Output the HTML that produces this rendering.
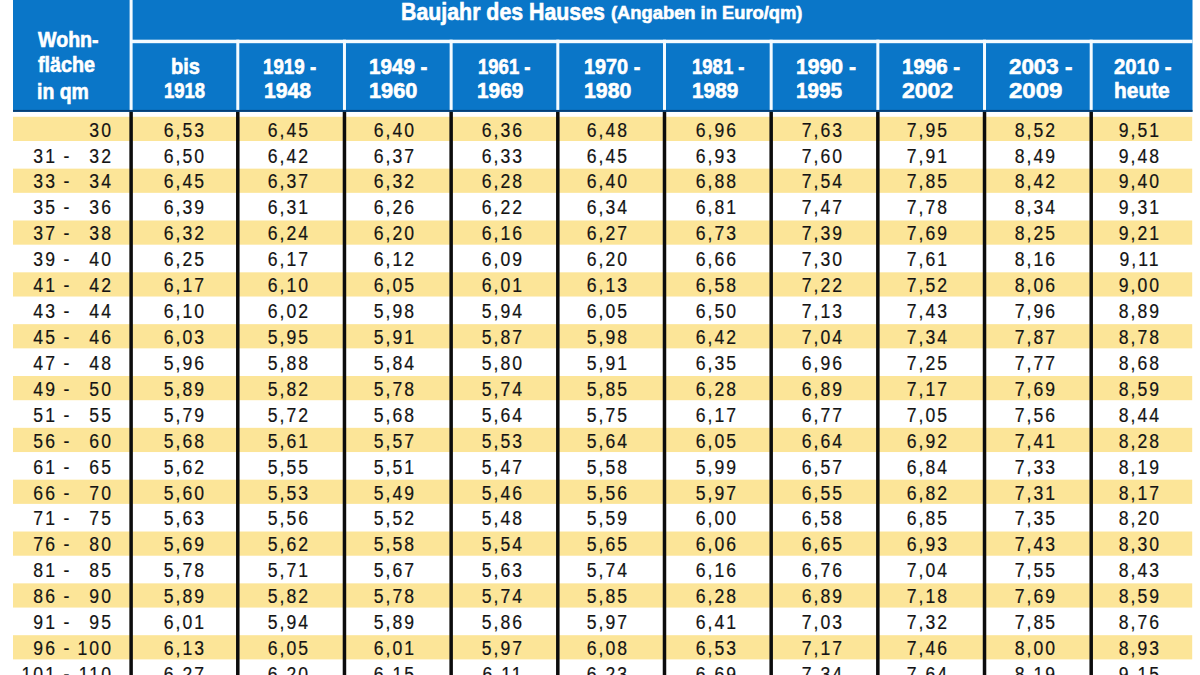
<!DOCTYPE html>
<html><head><meta charset="utf-8"><style>
html,body{margin:0;padding:0;}
body{width:1200px;height:675px;overflow:hidden;position:relative;background:#fff;font-family:"Liberation Sans",sans-serif;}
div{position:absolute;}
.hd{background:#0a76c8;}
.wl{background:#f4fbff;}
.bl{background:#0c0c0c;}
.yb{background:#fce598;}
.h{color:#fff;-webkit-text-stroke:0.6px #fff;font-weight:bold;white-space:pre;line-height:1;transform-origin:0 0;}
.t{color:#141414;-webkit-text-stroke:0.2px #141414;font-size:20px;letter-spacing:2.3px;line-height:1;white-space:nowrap;transform:scaleX(0.88);}
.c{width:200px;text-align:center;transform-origin:50% 0;}
.r{width:100px;text-align:right;transform-origin:100% 0;}
</style></head><body>

<svg width="1200" height="675" viewBox="0 0 1200 675" style="position:absolute;left:0;top:0"><rect x="13" y="0" width="1179.50" height="111.80" fill="#0a76c8"/><rect x="13" y="109.90" width="1179.50" height="1.90" fill="#063d73"/><rect x="131.11" y="39.70" width="1061.39" height="3.50" fill="#f4fbff"/><rect x="129.61" y="0.00" width="3.00" height="109.90" fill="#f4fbff"/><rect x="236.29" y="39.70" width="3.00" height="70.20" fill="#f4fbff"/><rect x="342.96" y="39.70" width="3.00" height="70.20" fill="#f4fbff"/><rect x="449.64" y="39.70" width="3.00" height="70.20" fill="#f4fbff"/><rect x="556.31" y="39.70" width="3.00" height="70.20" fill="#f4fbff"/><rect x="662.99" y="39.70" width="3.00" height="70.20" fill="#f4fbff"/><rect x="769.67" y="39.70" width="3.00" height="70.20" fill="#f4fbff"/><rect x="876.34" y="39.70" width="3.00" height="70.20" fill="#f4fbff"/><rect x="983.02" y="39.70" width="3.00" height="70.20" fill="#f4fbff"/><rect x="1089.69" y="39.70" width="3.00" height="70.20" fill="#f4fbff"/><rect x="13" y="116.80" width="1179.20" height="24.20" fill="#fce598"/><rect x="13" y="168.64" width="1179.20" height="24.20" fill="#fce598"/><rect x="13" y="220.48" width="1179.20" height="24.20" fill="#fce598"/><rect x="13" y="272.32" width="1179.20" height="24.20" fill="#fce598"/><rect x="13" y="324.16" width="1179.20" height="24.20" fill="#fce598"/><rect x="13" y="376.00" width="1179.20" height="24.20" fill="#fce598"/><rect x="13" y="427.84" width="1179.20" height="24.20" fill="#fce598"/><rect x="13" y="479.68" width="1179.20" height="24.20" fill="#fce598"/><rect x="13" y="531.52" width="1179.20" height="24.20" fill="#fce598"/><rect x="13" y="583.36" width="1179.20" height="24.20" fill="#fce598"/><rect x="13" y="635.20" width="1179.20" height="24.20" fill="#fce598"/><rect x="129.36" y="111.80" width="3.50" height="563.20" fill="#0c0c0c"/><rect x="236.04" y="111.80" width="3.50" height="563.20" fill="#0c0c0c"/><rect x="342.71" y="111.80" width="3.50" height="563.20" fill="#0c0c0c"/><rect x="449.39" y="111.80" width="3.50" height="563.20" fill="#0c0c0c"/><rect x="556.06" y="111.80" width="3.50" height="563.20" fill="#0c0c0c"/><rect x="662.74" y="111.80" width="3.50" height="563.20" fill="#0c0c0c"/><rect x="769.42" y="111.80" width="3.50" height="563.20" fill="#0c0c0c"/><rect x="876.09" y="111.80" width="3.50" height="563.20" fill="#0c0c0c"/><rect x="982.77" y="111.80" width="3.50" height="563.20" fill="#0c0c0c"/><rect x="1089.44" y="111.80" width="3.50" height="563.20" fill="#0c0c0c"/></svg>
<div class="t c" style="left:85.35px;top:119.65px">6,53</div>
<div class="t c" style="left:189.12px;top:119.65px">6,45</div>
<div class="t c" style="left:295.15px;top:119.65px">6,40</div>
<div class="t c" style="left:402.58px;top:119.65px">6,36</div>
<div class="t c" style="left:508.45px;top:119.65px">6,48</div>
<div class="t c" style="left:617.28px;top:119.65px">6,96</div>
<div class="t c" style="left:722.65px;top:119.65px">7,63</div>
<div class="t c" style="left:828.43px;top:119.65px">7,95</div>
<div class="t c" style="left:935.71px;top:119.65px">8,52</div>
<div class="t c" style="left:1040.28px;top:119.65px">9,51</div>
<div class="t r" style="left:13.30px;top:119.65px">30</div>
<div class="t c" style="left:85.35px;top:145.57px">6,50</div>
<div class="t c" style="left:189.12px;top:145.57px">6,42</div>
<div class="t c" style="left:295.15px;top:145.57px">6,37</div>
<div class="t c" style="left:402.58px;top:145.57px">6,33</div>
<div class="t c" style="left:508.45px;top:145.57px">6,45</div>
<div class="t c" style="left:617.28px;top:145.57px">6,93</div>
<div class="t c" style="left:722.65px;top:145.57px">7,60</div>
<div class="t c" style="left:828.43px;top:145.57px">7,91</div>
<div class="t c" style="left:935.71px;top:145.57px">8,49</div>
<div class="t c" style="left:1040.28px;top:145.57px">9,48</div>
<div class="t r" style="left:-42.70px;top:145.57px">31</div>
<div class="t" style="left:63.00px;top:145.57px">-</div>
<div class="t r" style="left:13.30px;top:145.57px">32</div>
<div class="t c" style="left:85.35px;top:171.49px">6,45</div>
<div class="t c" style="left:189.12px;top:171.49px">6,37</div>
<div class="t c" style="left:295.15px;top:171.49px">6,32</div>
<div class="t c" style="left:402.58px;top:171.49px">6,28</div>
<div class="t c" style="left:508.45px;top:171.49px">6,40</div>
<div class="t c" style="left:617.28px;top:171.49px">6,88</div>
<div class="t c" style="left:722.65px;top:171.49px">7,54</div>
<div class="t c" style="left:828.43px;top:171.49px">7,85</div>
<div class="t c" style="left:935.71px;top:171.49px">8,42</div>
<div class="t c" style="left:1040.28px;top:171.49px">9,40</div>
<div class="t r" style="left:-42.70px;top:171.49px">33</div>
<div class="t" style="left:63.00px;top:171.49px">-</div>
<div class="t r" style="left:13.30px;top:171.49px">34</div>
<div class="t c" style="left:85.35px;top:197.41px">6,39</div>
<div class="t c" style="left:189.12px;top:197.41px">6,31</div>
<div class="t c" style="left:295.15px;top:197.41px">6,26</div>
<div class="t c" style="left:402.58px;top:197.41px">6,22</div>
<div class="t c" style="left:508.45px;top:197.41px">6,34</div>
<div class="t c" style="left:617.28px;top:197.41px">6,81</div>
<div class="t c" style="left:722.65px;top:197.41px">7,47</div>
<div class="t c" style="left:828.43px;top:197.41px">7,78</div>
<div class="t c" style="left:935.71px;top:197.41px">8,34</div>
<div class="t c" style="left:1040.28px;top:197.41px">9,31</div>
<div class="t r" style="left:-42.70px;top:197.41px">35</div>
<div class="t" style="left:63.00px;top:197.41px">-</div>
<div class="t r" style="left:13.30px;top:197.41px">36</div>
<div class="t c" style="left:85.35px;top:223.33px">6,32</div>
<div class="t c" style="left:189.12px;top:223.33px">6,24</div>
<div class="t c" style="left:295.15px;top:223.33px">6,20</div>
<div class="t c" style="left:402.58px;top:223.33px">6,16</div>
<div class="t c" style="left:508.45px;top:223.33px">6,27</div>
<div class="t c" style="left:617.28px;top:223.33px">6,73</div>
<div class="t c" style="left:722.65px;top:223.33px">7,39</div>
<div class="t c" style="left:828.43px;top:223.33px">7,69</div>
<div class="t c" style="left:935.71px;top:223.33px">8,25</div>
<div class="t c" style="left:1040.28px;top:223.33px">9,21</div>
<div class="t r" style="left:-42.70px;top:223.33px">37</div>
<div class="t" style="left:63.00px;top:223.33px">-</div>
<div class="t r" style="left:13.30px;top:223.33px">38</div>
<div class="t c" style="left:85.35px;top:249.25px">6,25</div>
<div class="t c" style="left:189.12px;top:249.25px">6,17</div>
<div class="t c" style="left:295.15px;top:249.25px">6,12</div>
<div class="t c" style="left:402.58px;top:249.25px">6,09</div>
<div class="t c" style="left:508.45px;top:249.25px">6,20</div>
<div class="t c" style="left:617.28px;top:249.25px">6,66</div>
<div class="t c" style="left:722.65px;top:249.25px">7,30</div>
<div class="t c" style="left:828.43px;top:249.25px">7,61</div>
<div class="t c" style="left:935.71px;top:249.25px">8,16</div>
<div class="t c" style="left:1040.28px;top:249.25px">9,11</div>
<div class="t r" style="left:-42.70px;top:249.25px">39</div>
<div class="t" style="left:63.00px;top:249.25px">-</div>
<div class="t r" style="left:13.30px;top:249.25px">40</div>
<div class="t c" style="left:85.35px;top:275.17px">6,17</div>
<div class="t c" style="left:189.12px;top:275.17px">6,10</div>
<div class="t c" style="left:295.15px;top:275.17px">6,05</div>
<div class="t c" style="left:402.58px;top:275.17px">6,01</div>
<div class="t c" style="left:508.45px;top:275.17px">6,13</div>
<div class="t c" style="left:617.28px;top:275.17px">6,58</div>
<div class="t c" style="left:722.65px;top:275.17px">7,22</div>
<div class="t c" style="left:828.43px;top:275.17px">7,52</div>
<div class="t c" style="left:935.71px;top:275.17px">8,06</div>
<div class="t c" style="left:1040.28px;top:275.17px">9,00</div>
<div class="t r" style="left:-42.70px;top:275.17px">41</div>
<div class="t" style="left:63.00px;top:275.17px">-</div>
<div class="t r" style="left:13.30px;top:275.17px">42</div>
<div class="t c" style="left:85.35px;top:301.09px">6,10</div>
<div class="t c" style="left:189.12px;top:301.09px">6,02</div>
<div class="t c" style="left:295.15px;top:301.09px">5,98</div>
<div class="t c" style="left:402.58px;top:301.09px">5,94</div>
<div class="t c" style="left:508.45px;top:301.09px">6,05</div>
<div class="t c" style="left:617.28px;top:301.09px">6,50</div>
<div class="t c" style="left:722.65px;top:301.09px">7,13</div>
<div class="t c" style="left:828.43px;top:301.09px">7,43</div>
<div class="t c" style="left:935.71px;top:301.09px">7,96</div>
<div class="t c" style="left:1040.28px;top:301.09px">8,89</div>
<div class="t r" style="left:-42.70px;top:301.09px">43</div>
<div class="t" style="left:63.00px;top:301.09px">-</div>
<div class="t r" style="left:13.30px;top:301.09px">44</div>
<div class="t c" style="left:85.35px;top:327.01px">6,03</div>
<div class="t c" style="left:189.12px;top:327.01px">5,95</div>
<div class="t c" style="left:295.15px;top:327.01px">5,91</div>
<div class="t c" style="left:402.58px;top:327.01px">5,87</div>
<div class="t c" style="left:508.45px;top:327.01px">5,98</div>
<div class="t c" style="left:617.28px;top:327.01px">6,42</div>
<div class="t c" style="left:722.65px;top:327.01px">7,04</div>
<div class="t c" style="left:828.43px;top:327.01px">7,34</div>
<div class="t c" style="left:935.71px;top:327.01px">7,87</div>
<div class="t c" style="left:1040.28px;top:327.01px">8,78</div>
<div class="t r" style="left:-42.70px;top:327.01px">45</div>
<div class="t" style="left:63.00px;top:327.01px">-</div>
<div class="t r" style="left:13.30px;top:327.01px">46</div>
<div class="t c" style="left:85.35px;top:352.93px">5,96</div>
<div class="t c" style="left:189.12px;top:352.93px">5,88</div>
<div class="t c" style="left:295.15px;top:352.93px">5,84</div>
<div class="t c" style="left:402.58px;top:352.93px">5,80</div>
<div class="t c" style="left:508.45px;top:352.93px">5,91</div>
<div class="t c" style="left:617.28px;top:352.93px">6,35</div>
<div class="t c" style="left:722.65px;top:352.93px">6,96</div>
<div class="t c" style="left:828.43px;top:352.93px">7,25</div>
<div class="t c" style="left:935.71px;top:352.93px">7,77</div>
<div class="t c" style="left:1040.28px;top:352.93px">8,68</div>
<div class="t r" style="left:-42.70px;top:352.93px">47</div>
<div class="t" style="left:63.00px;top:352.93px">-</div>
<div class="t r" style="left:13.30px;top:352.93px">48</div>
<div class="t c" style="left:85.35px;top:378.85px">5,89</div>
<div class="t c" style="left:189.12px;top:378.85px">5,82</div>
<div class="t c" style="left:295.15px;top:378.85px">5,78</div>
<div class="t c" style="left:402.58px;top:378.85px">5,74</div>
<div class="t c" style="left:508.45px;top:378.85px">5,85</div>
<div class="t c" style="left:617.28px;top:378.85px">6,28</div>
<div class="t c" style="left:722.65px;top:378.85px">6,89</div>
<div class="t c" style="left:828.43px;top:378.85px">7,17</div>
<div class="t c" style="left:935.71px;top:378.85px">7,69</div>
<div class="t c" style="left:1040.28px;top:378.85px">8,59</div>
<div class="t r" style="left:-42.70px;top:378.85px">49</div>
<div class="t" style="left:63.00px;top:378.85px">-</div>
<div class="t r" style="left:13.30px;top:378.85px">50</div>
<div class="t c" style="left:85.35px;top:404.77px">5,79</div>
<div class="t c" style="left:189.12px;top:404.77px">5,72</div>
<div class="t c" style="left:295.15px;top:404.77px">5,68</div>
<div class="t c" style="left:402.58px;top:404.77px">5,64</div>
<div class="t c" style="left:508.45px;top:404.77px">5,75</div>
<div class="t c" style="left:617.28px;top:404.77px">6,17</div>
<div class="t c" style="left:722.65px;top:404.77px">6,77</div>
<div class="t c" style="left:828.43px;top:404.77px">7,05</div>
<div class="t c" style="left:935.71px;top:404.77px">7,56</div>
<div class="t c" style="left:1040.28px;top:404.77px">8,44</div>
<div class="t r" style="left:-42.70px;top:404.77px">51</div>
<div class="t" style="left:63.00px;top:404.77px">-</div>
<div class="t r" style="left:13.30px;top:404.77px">55</div>
<div class="t c" style="left:85.35px;top:430.69px">5,68</div>
<div class="t c" style="left:189.12px;top:430.69px">5,61</div>
<div class="t c" style="left:295.15px;top:430.69px">5,57</div>
<div class="t c" style="left:402.58px;top:430.69px">5,53</div>
<div class="t c" style="left:508.45px;top:430.69px">5,64</div>
<div class="t c" style="left:617.28px;top:430.69px">6,05</div>
<div class="t c" style="left:722.65px;top:430.69px">6,64</div>
<div class="t c" style="left:828.43px;top:430.69px">6,92</div>
<div class="t c" style="left:935.71px;top:430.69px">7,41</div>
<div class="t c" style="left:1040.28px;top:430.69px">8,28</div>
<div class="t r" style="left:-42.70px;top:430.69px">56</div>
<div class="t" style="left:63.00px;top:430.69px">-</div>
<div class="t r" style="left:13.30px;top:430.69px">60</div>
<div class="t c" style="left:85.35px;top:456.61px">5,62</div>
<div class="t c" style="left:189.12px;top:456.61px">5,55</div>
<div class="t c" style="left:295.15px;top:456.61px">5,51</div>
<div class="t c" style="left:402.58px;top:456.61px">5,47</div>
<div class="t c" style="left:508.45px;top:456.61px">5,58</div>
<div class="t c" style="left:617.28px;top:456.61px">5,99</div>
<div class="t c" style="left:722.65px;top:456.61px">6,57</div>
<div class="t c" style="left:828.43px;top:456.61px">6,84</div>
<div class="t c" style="left:935.71px;top:456.61px">7,33</div>
<div class="t c" style="left:1040.28px;top:456.61px">8,19</div>
<div class="t r" style="left:-42.70px;top:456.61px">61</div>
<div class="t" style="left:63.00px;top:456.61px">-</div>
<div class="t r" style="left:13.30px;top:456.61px">65</div>
<div class="t c" style="left:85.35px;top:482.53px">5,60</div>
<div class="t c" style="left:189.12px;top:482.53px">5,53</div>
<div class="t c" style="left:295.15px;top:482.53px">5,49</div>
<div class="t c" style="left:402.58px;top:482.53px">5,46</div>
<div class="t c" style="left:508.45px;top:482.53px">5,56</div>
<div class="t c" style="left:617.28px;top:482.53px">5,97</div>
<div class="t c" style="left:722.65px;top:482.53px">6,55</div>
<div class="t c" style="left:828.43px;top:482.53px">6,82</div>
<div class="t c" style="left:935.71px;top:482.53px">7,31</div>
<div class="t c" style="left:1040.28px;top:482.53px">8,17</div>
<div class="t r" style="left:-42.70px;top:482.53px">66</div>
<div class="t" style="left:63.00px;top:482.53px">-</div>
<div class="t r" style="left:13.30px;top:482.53px">70</div>
<div class="t c" style="left:85.35px;top:508.45px">5,63</div>
<div class="t c" style="left:189.12px;top:508.45px">5,56</div>
<div class="t c" style="left:295.15px;top:508.45px">5,52</div>
<div class="t c" style="left:402.58px;top:508.45px">5,48</div>
<div class="t c" style="left:508.45px;top:508.45px">5,59</div>
<div class="t c" style="left:617.28px;top:508.45px">6,00</div>
<div class="t c" style="left:722.65px;top:508.45px">6,58</div>
<div class="t c" style="left:828.43px;top:508.45px">6,85</div>
<div class="t c" style="left:935.71px;top:508.45px">7,35</div>
<div class="t c" style="left:1040.28px;top:508.45px">8,20</div>
<div class="t r" style="left:-42.70px;top:508.45px">71</div>
<div class="t" style="left:63.00px;top:508.45px">-</div>
<div class="t r" style="left:13.30px;top:508.45px">75</div>
<div class="t c" style="left:85.35px;top:534.37px">5,69</div>
<div class="t c" style="left:189.12px;top:534.37px">5,62</div>
<div class="t c" style="left:295.15px;top:534.37px">5,58</div>
<div class="t c" style="left:402.58px;top:534.37px">5,54</div>
<div class="t c" style="left:508.45px;top:534.37px">5,65</div>
<div class="t c" style="left:617.28px;top:534.37px">6,06</div>
<div class="t c" style="left:722.65px;top:534.37px">6,65</div>
<div class="t c" style="left:828.43px;top:534.37px">6,93</div>
<div class="t c" style="left:935.71px;top:534.37px">7,43</div>
<div class="t c" style="left:1040.28px;top:534.37px">8,30</div>
<div class="t r" style="left:-42.70px;top:534.37px">76</div>
<div class="t" style="left:63.00px;top:534.37px">-</div>
<div class="t r" style="left:13.30px;top:534.37px">80</div>
<div class="t c" style="left:85.35px;top:560.29px">5,78</div>
<div class="t c" style="left:189.12px;top:560.29px">5,71</div>
<div class="t c" style="left:295.15px;top:560.29px">5,67</div>
<div class="t c" style="left:402.58px;top:560.29px">5,63</div>
<div class="t c" style="left:508.45px;top:560.29px">5,74</div>
<div class="t c" style="left:617.28px;top:560.29px">6,16</div>
<div class="t c" style="left:722.65px;top:560.29px">6,76</div>
<div class="t c" style="left:828.43px;top:560.29px">7,04</div>
<div class="t c" style="left:935.71px;top:560.29px">7,55</div>
<div class="t c" style="left:1040.28px;top:560.29px">8,43</div>
<div class="t r" style="left:-42.70px;top:560.29px">81</div>
<div class="t" style="left:63.00px;top:560.29px">-</div>
<div class="t r" style="left:13.30px;top:560.29px">85</div>
<div class="t c" style="left:85.35px;top:586.21px">5,89</div>
<div class="t c" style="left:189.12px;top:586.21px">5,82</div>
<div class="t c" style="left:295.15px;top:586.21px">5,78</div>
<div class="t c" style="left:402.58px;top:586.21px">5,74</div>
<div class="t c" style="left:508.45px;top:586.21px">5,85</div>
<div class="t c" style="left:617.28px;top:586.21px">6,28</div>
<div class="t c" style="left:722.65px;top:586.21px">6,89</div>
<div class="t c" style="left:828.43px;top:586.21px">7,18</div>
<div class="t c" style="left:935.71px;top:586.21px">7,69</div>
<div class="t c" style="left:1040.28px;top:586.21px">8,59</div>
<div class="t r" style="left:-42.70px;top:586.21px">86</div>
<div class="t" style="left:63.00px;top:586.21px">-</div>
<div class="t r" style="left:13.30px;top:586.21px">90</div>
<div class="t c" style="left:85.35px;top:612.13px">6,01</div>
<div class="t c" style="left:189.12px;top:612.13px">5,94</div>
<div class="t c" style="left:295.15px;top:612.13px">5,89</div>
<div class="t c" style="left:402.58px;top:612.13px">5,86</div>
<div class="t c" style="left:508.45px;top:612.13px">5,97</div>
<div class="t c" style="left:617.28px;top:612.13px">6,41</div>
<div class="t c" style="left:722.65px;top:612.13px">7,03</div>
<div class="t c" style="left:828.43px;top:612.13px">7,32</div>
<div class="t c" style="left:935.71px;top:612.13px">7,85</div>
<div class="t c" style="left:1040.28px;top:612.13px">8,76</div>
<div class="t r" style="left:-42.70px;top:612.13px">91</div>
<div class="t" style="left:63.00px;top:612.13px">-</div>
<div class="t r" style="left:13.30px;top:612.13px">95</div>
<div class="t c" style="left:85.35px;top:638.05px">6,13</div>
<div class="t c" style="left:189.12px;top:638.05px">6,05</div>
<div class="t c" style="left:295.15px;top:638.05px">6,01</div>
<div class="t c" style="left:402.58px;top:638.05px">5,97</div>
<div class="t c" style="left:508.45px;top:638.05px">6,08</div>
<div class="t c" style="left:617.28px;top:638.05px">6,53</div>
<div class="t c" style="left:722.65px;top:638.05px">7,17</div>
<div class="t c" style="left:828.43px;top:638.05px">7,46</div>
<div class="t c" style="left:935.71px;top:638.05px">8,00</div>
<div class="t c" style="left:1040.28px;top:638.05px">8,93</div>
<div class="t r" style="left:-42.70px;top:638.05px">96</div>
<div class="t" style="left:63.00px;top:638.05px">-</div>
<div class="t r" style="left:13.30px;top:638.05px">100</div>
<div class="t c" style="left:85.35px;top:663.97px">6,27</div>
<div class="t c" style="left:189.12px;top:663.97px">6,20</div>
<div class="t c" style="left:295.15px;top:663.97px">6,15</div>
<div class="t c" style="left:402.58px;top:663.97px">6,11</div>
<div class="t c" style="left:508.45px;top:663.97px">6,23</div>
<div class="t c" style="left:617.28px;top:663.97px">6,69</div>
<div class="t c" style="left:722.65px;top:663.97px">7,34</div>
<div class="t c" style="left:828.43px;top:663.97px">7,64</div>
<div class="t c" style="left:935.71px;top:663.97px">8,19</div>
<div class="t c" style="left:1040.28px;top:663.97px">9,15</div>
<div class="t r" style="left:-42.70px;top:663.97px">101</div>
<div class="t" style="left:63.00px;top:663.97px">-</div>
<div class="t r" style="left:13.30px;top:663.97px">110</div>
<div class="h" style="left:401.11px;top:0.00px;font-size:24px;transform:scaleX(0.8889)">Baujahr des Hauses</div>
<div class="h" style="left:610.63px;top:3.97px;font-size:18.5px;transform:scaleX(0.9909)">(Angaben in Euro/qm)</div>
<div class="h" style="left:38.40px;top:29.62px;font-size:21.5px;transform:scaleX(0.9119)">Wohn-</div>
<div class="h" style="left:38.00px;top:55.13px;font-size:21.5px;transform:scaleX(0.9188)">fläche</div>
<div class="h" style="left:37.24px;top:81.62px;font-size:21.5px;transform:scaleX(0.9046)">in qm</div>
<div class="h" style="left:170.51px;top:57.23px;font-size:21.5px;transform:scaleX(0.9267)">bis</div>
<div class="h" style="left:164.09px;top:81.32px;font-size:21.5px;transform:scaleX(0.8604)">1918</div>
<div class="h" style="left:263.37px;top:57.23px;font-size:21.5px;transform:scaleX(0.8725)">1919 -</div>
<div class="h" style="left:263.73px;top:81.32px;font-size:21.5px;transform:scaleX(0.9848)">1948</div>
<div class="h" style="left:369.06px;top:57.23px;font-size:21.5px;transform:scaleX(0.9591)">1949 -</div>
<div class="h" style="left:369.00px;top:81.32px;font-size:21.5px;transform:scaleX(1.0114)">1960</div>
<div class="h" style="left:477.59px;top:57.23px;font-size:21.5px;transform:scaleX(0.8615)">1961 -</div>
<div class="h" style="left:477.45px;top:81.32px;font-size:21.5px;transform:scaleX(0.9674)">1969</div>
<div class="h" style="left:583.86px;top:57.23px;font-size:21.5px;transform:scaleX(0.9234)">1970 -</div>
<div class="h" style="left:583.77px;top:81.32px;font-size:21.5px;transform:scaleX(0.9928)">1980</div>
<div class="h" style="left:692.09px;top:57.23px;font-size:21.5px;transform:scaleX(0.8615)">1981 -</div>
<div class="h" style="left:691.95px;top:81.32px;font-size:21.5px;transform:scaleX(0.9674)">1989</div>
<div class="h" style="left:796.43px;top:57.23px;font-size:21.5px;transform:scaleX(0.9846)">1990 -</div>
<div class="h" style="left:796.46px;top:81.32px;font-size:21.5px;transform:scaleX(0.9628)">1995</div>
<div class="h" style="left:901.57px;top:57.23px;font-size:21.5px;transform:scaleX(0.9523)">1996 -</div>
<div class="h" style="left:902.11px;top:81.32px;font-size:21.5px;transform:scaleX(1.0687)">2002</div>
<div class="h" style="left:1008.83px;top:57.23px;font-size:21.5px;transform:scaleX(1.0394)">2003 -</div>
<div class="h" style="left:1008.78px;top:81.32px;font-size:21.5px;transform:scaleX(1.1176)">2009</div>
<div class="h" style="left:1114.49px;top:57.23px;font-size:21.5px;transform:scaleX(0.9445)">2010 -</div>
<div class="h" style="left:1113.64px;top:81.32px;font-size:21.5px;transform:scaleX(0.9720)">heute</div>
</body></html>
